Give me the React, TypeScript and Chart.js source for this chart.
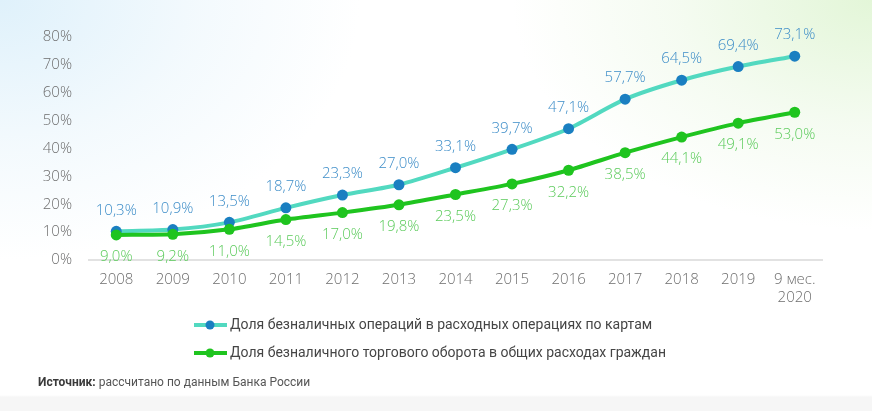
import React, { useEffect, useRef } from "react";
import { Chart, registerables } from "chart.js";

Chart.register(...registerables);

const categories: (string | string[])[] = [
  "2008", "2009", "2010", "2011", "2012", "2013", "2014", "2015", "2016", "2017", "2018", "2019", ["9 мес.", "2020"],
];
const cardShare = [10.3, 10.9, 13.5, 18.7, 23.3, 27.0, 33.1, 39.7, 47.1, 57.7, 64.5, 69.4, 73.1];
const tradeShare = [9.0, 9.2, 11.0, 14.5, 17.0, 19.8, 23.5, 27.3, 32.2, 38.5, 44.1, 49.1, 53.0];
const cardLabel = "Доля безналичных операций в расходных операциях по картам";
const tradeLabel = "Доля безналичного торгового оборота в общих расходах граждан";
const sourceBold = "Источник:";
const sourceText = " рассчитано по данным Банка России";

const FONT = "'Open Sans', 'Noto Sans', sans-serif";
const LFONT = "Roboto, 'Noto Sans', sans-serif";

const fmt = (v: number) => v.toFixed(1).replace(".", ",") + "%";

const valueLabels = {
  id: "valueLabels",
  afterDatasetsDraw(chart: any) {
    const ctx = chart.ctx;
    ctx.save();
    ctx.font = `300 15px ${FONT}`;
    ctx.textAlign = "center";
    ctx.textBaseline = "middle";
    chart.data.datasets.forEach((ds: any, i: number) => {
      const meta = chart.getDatasetMeta(i);
      meta.data.forEach((pt: any, j: number) => {
        const above = ds.labelPos === "above";
        ctx.fillStyle = ds.labelColor;
        ctx.fillText(fmt(ds.data[j]), pt.x, pt.y + (above ? -21 : 22));
      });
    });
    ctx.restore();
  },
};

const legendAndSource = {
  id: "legendAndSource",
  afterDraw(chart: any) {
    const ctx = chart.ctx;
    ctx.save();
    const rows = [
      { y: 325, line: "#52d9c0", dot: "#1a7fc1", text: cardLabel },
      { y: 353, line: "#1fc41f", dot: "#1fc41f", text: tradeLabel },
    ];
    rows.forEach((r) => {
      ctx.strokeStyle = r.line;
      ctx.lineWidth = 4;
      ctx.beginPath();
      ctx.moveTo(194, r.y);
      ctx.lineTo(227, r.y);
      ctx.stroke();
      ctx.fillStyle = r.dot;
      ctx.beginPath();
      ctx.arc(210, r.y, 4.5, 0, Math.PI * 2);
      ctx.fill();
      ctx.fillStyle = "#454545";
      ctx.font = `14px ${LFONT}`;
      ctx.textAlign = "left";
      ctx.textBaseline = "middle";
      ctx.fillText(r.text, 230, r.y);
    });
    ctx.font = `bold 12px ${LFONT}`;
    ctx.fillStyle = "#3a3a3a";
    ctx.textBaseline = "middle";
    ctx.fillText(sourceBold, 38, 383);
    const w = ctx.measureText(sourceBold).width;
    ctx.font = `12px ${LFONT}`;
    ctx.fillStyle = "#555";
    ctx.fillText(sourceText, 38 + w, 383);
    ctx.restore();
  },
};

export default function App() {
  const ref = useRef<HTMLCanvasElement>(null);
  useEffect(() => {
    if (!ref.current) return;
    const chart = new Chart(ref.current, {
      type: "line",
      data: {
        labels: categories as any,
        datasets: [
          {
            label: cardLabel,
            data: cardShare,
            borderColor: "#52d9c0",
            borderWidth: 4,
            pointBackgroundColor: "#1a7fc1",
            pointBorderWidth: 0,
            pointRadius: 5.5,
            tension: 0.25,
            order: 1,
            labelPos: "above",
            labelColor: "#3d8dc8",
          } as any,
          {
            label: tradeLabel,
            data: tradeShare,
            borderColor: "#1fc41f",
            borderWidth: 4,
            pointBackgroundColor: "#1fc41f",
            pointBorderWidth: 0,
            pointRadius: 5.5,
            tension: 0.25,
            order: 0,
            labelPos: "below",
            labelColor: "#5ccb5c",
          } as any,
        ],
      },
      options: {
        animation: false,
        responsive: false,
        maintainAspectRatio: false,
        layout: { padding: { left: 0, right: 49, top: 37, bottom: 101 } },
        plugins: { legend: { display: false }, tooltip: { enabled: false } },
        scales: {
          x: {
            offset: true,
            grid: { display: false, drawTicks: false },
            border: { display: false },
            ticks: {
              color: "#6e6e6e",
              font: { family: FONT, size: 15, weight: "300" as any, lineHeight: 1.2 },
              padding: 11,
              maxRotation: 0,
              autoSkip: false,
            },
            afterFit: (s: any) => { s.height = 50; },
          },
          y: {
            min: 0,
            max: 80,
            grid: {
              drawTicks: false,
              lineWidth: 2,
              color: (c: any) => (c.tick && c.tick.value === 0 ? "#e2e2e2" : "rgba(0,0,0,0)"),
            },
            border: { display: false },
            ticks: {
              stepSize: 10,
              color: "#6e6e6e",
              font: { family: FONT, size: 15, weight: "300" as any },
              padding: 16,
              callback: (v: any) => v + "%",
            },
            afterFit: (s: any) => { s.width = 88; },
          },
        },
      },
      plugins: [valueLabels, legendAndSource],
    });
    return () => chart.destroy();
  }, []);
  return (
    <div
      style={{
        position: "absolute",
        left: 0,
        top: 0,
        width: 872,
        height: 411,
        overflow: "hidden",
        background:
          "linear-gradient(to bottom, rgba(0,0,0,0) 0, rgba(0,0,0,0) 395px, #f6f6f6 397px), radial-gradient(ellipse 360px 260px at 0px 0px, #dff1fb 0%, rgba(235,246,252,0.6) 55%, rgba(255,255,255,0) 100%), radial-gradient(ellipse 360px 230px at 872px 0px, #e3f6d8 0%, rgba(238,249,232,0.6) 55%, rgba(255,255,255,0) 100%), #ffffff",
      }}
    >
      <canvas ref={ref} width={872} height={411} style={{ display: "block" }} />
    </div>
  );
}
